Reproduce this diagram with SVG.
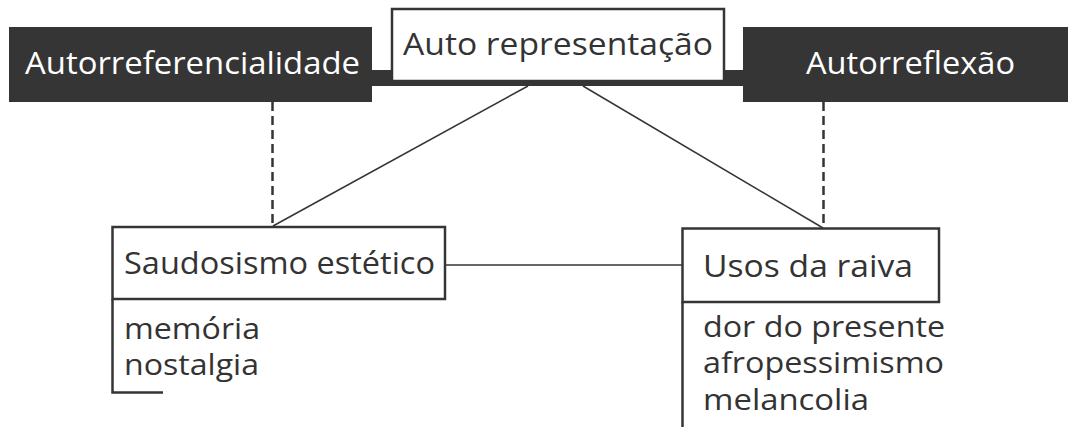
<svg xmlns="http://www.w3.org/2000/svg" width="1068" height="427" viewBox="0 0 1068 427">
  <style>
    .lbl { font-family: "Open Sans", "Noto Sans", "Liberation Sans", sans-serif; font-size: 31px; fill: #333333; }
    .item { font-size: 29.5px; }
    .inv { fill: #ffffff; }
    .box { fill: #ffffff; stroke: #353535; stroke-width: 2.5; }
    .dark { fill: #353535; }
    .ln { stroke: #353535; stroke-width: 1.5; fill: none; }
    .dash { stroke: #353535; stroke-width: 2.5; stroke-dasharray: 9 5; fill: none; }
    .brk { stroke: #353535; stroke-width: 2.5; fill: none; }
  </style>

  <!-- bar joining the top row -->
  <rect class="dark" x="370" y="70" width="376" height="16"/>

  <g id="connectors">
    <line class="dash" x1="272.5" y1="102" x2="272.5" y2="226"/>
    <line class="dash" x1="823.5" y1="102" x2="823.5" y2="228"/>
    <line class="ln" x1="528" y1="86" x2="273" y2="226"/>
    <line class="ln" x1="583" y1="86" x2="823" y2="228"/>
    <line class="ln" x1="445" y1="265" x2="682" y2="265"/>
  </g>

  <g id="autorreferencialidade">
    <rect class="dark" x="9" y="27" width="363" height="75"/>
    <text class="lbl inv" x="25" y="74" textLength="335" lengthAdjust="spacingAndGlyphs">Autorreferencialidade</text>
  </g>

  <g id="auto-representacao">
    <rect class="box" x="392" y="9" width="332" height="72"/>
    <text class="lbl" x="403" y="55" textLength="310" lengthAdjust="spacingAndGlyphs">Auto representação</text>
  </g>

  <g id="autorreflexao">
    <rect class="dark" x="743" y="27" width="325" height="75"/>
    <text class="lbl inv" x="806" y="74" textLength="209" lengthAdjust="spacingAndGlyphs">Autorreflexão</text>
  </g>

  <g id="saudosismo-estetico">
    <rect class="box" x="112.5" y="227" width="332.5" height="72"/>
    <text class="lbl" x="124" y="274" textLength="311" lengthAdjust="spacingAndGlyphs">Saudosismo estético</text>
    <polyline class="brk" points="112.5,299 112.5,392.5 163,392.5"/>
    <text class="lbl item" x="124" y="339" textLength="136" lengthAdjust="spacingAndGlyphs">memória</text>
    <text class="lbl item" x="124" y="375" textLength="135" lengthAdjust="spacingAndGlyphs">nostalgia</text>
  </g>

  <g id="usos-da-raiva">
    <rect class="box" x="682.5" y="228.5" width="256.5" height="73.5"/>
    <text class="lbl" x="703" y="277" textLength="210" lengthAdjust="spacingAndGlyphs">Usos da raiva</text>
    <line class="brk" x1="682.5" y1="302" x2="682.5" y2="427"/>
    <text class="lbl item" x="703" y="337" textLength="242" lengthAdjust="spacingAndGlyphs">dor do presente</text>
    <text class="lbl item" x="703" y="373" textLength="241" lengthAdjust="spacingAndGlyphs">afropessimismo</text>
    <text class="lbl item" x="703" y="410" textLength="166" lengthAdjust="spacingAndGlyphs">melancolia</text>
  </g>
</svg>
